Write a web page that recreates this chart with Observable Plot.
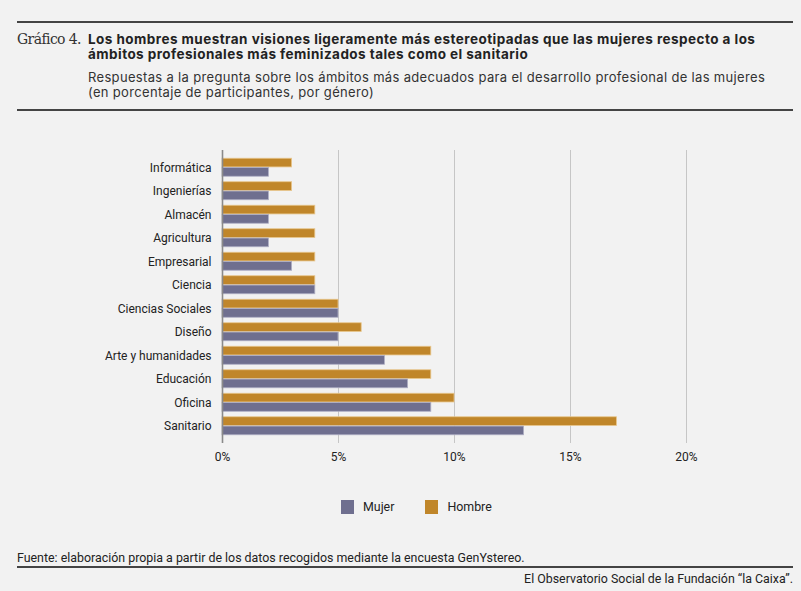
<!DOCTYPE html>
<html>
<head>
<meta charset="utf-8">
<script src="https://cdn.jsdelivr.net/npm/d3@7"></script>
<script src="https://cdn.jsdelivr.net/npm/@observablehq/plot@0.6"></script>
<style>
  html, body { margin: 0; padding: 0; background: #f2f2f2; }
  body { width: 801px; height: 591px; position: relative; overflow: hidden; font-family: Roboto, "Liberation Sans", sans-serif; color: #222; }
  .abs { position: absolute; white-space: nowrap; }
  .rule { position: absolute; left: 17px; width: 776px; height: 2px; background: #444; }
  #gr { left: 17px; top: 31px; font-family: "DejaVu Serif", "Liberation Serif", serif; font-size: 14px; color: #333; letter-spacing: -0.6px; }
  .tl { left: 88px; font-family: Inter, Roboto, sans-serif; font-size: 13.5px; font-weight: bold; line-height: 15px; color: #222; letter-spacing: 0.45px; }
  .sl { left: 88px; font-family: Inter, Roboto, sans-serif; font-size: 13px; line-height: 15px; color: #333; letter-spacing: 0.33px; }
  #chart { left: 0; top: 140px; }
  #legend { left: 341px; top: 499px; font-size: 12.4px; color: #222; }
  .sw { display: inline-block; width: 13px; height: 14px; vertical-align: -3px; margin-right: 9px; }
  #fuente { left: 17px; top: 550px; font-size: 12.4px; color: #222; }
  #credit { right: 8px; top: 571px; font-size: 12.4px; color: #222; }
</style>
</head>
<body>
<div class="rule" style="top:21px"></div>
<div class="abs" id="gr">Gráfico 4.</div>
<div class="abs tl" style="top:32px">Los hombres muestran visiones ligeramente más estereotipadas que las mujeres respecto a los</div>
<div class="abs tl" style="top:47px">ámbitos profesionales más feminizados tales como el sanitario</div>
<div class="abs sl" style="top:70px">Respuestas a la pregunta sobre los ámbitos más adecuados para el desarrollo profesional de las mujeres</div>
<div class="abs sl" style="top:85px">(en porcentaje de participantes, por género)</div>
<div class="rule" style="top:109px"></div>
<div class="abs" id="chart"></div>
<div class="abs" id="legend"><span class="sw" style="background:#6f6f8f"></span>Mujer<span class="sw" style="background:#c0862a;margin-left:31px"></span>Hombre</div>
<div class="abs" id="fuente">Fuente: elaboración propia a partir de los datos recogidos mediante la encuesta GenYstereo.</div>
<div class="rule" style="top:566px"></div>
<div class="abs" id="credit">El Observatorio Social de la Fundación “la Caixa”.</div>
<script>
const categories = ["Informática","Ingenierías","Almacén","Agricultura","Empresarial","Ciencia","Ciencias Sociales","Diseño","Arte y humanidades","Educación","Oficina","Sanitario"];
const mujer = [2,2,2,2,3,4,5,5,7,8,9,13];
const hombre = [3,3,4,4,4,4,5,6,9,9,10,17];
const xTicks = [0,5,10,15,20];

const rowsH = categories.map((c,i) => ({cat: c, value: hombre[i]}));
const rowsM = categories.map((c,i) => ({cat: c, value: mujer[i]}));

const chart = Plot.plot({
  width: 801,
  height: 330,
  marginLeft: 222,
  marginRight: 115,
  marginTop: 10,
  marginBottom: 27,
  style: {background: "#f2f2f2", fontFamily: "Roboto, 'Liberation Sans', sans-serif", fontSize: "12px", color: "#222"},
  x: {domain: [0, 20], ticks: xTicks, tickFormat: d => d + "%", tickSize: 0, tickPadding: 9, label: null},
  y: {domain: categories, paddingInner: 0.234, paddingOuter: 0.35, round: false, tickSize: 0, tickPadding: 11, label: null},
  marks: [
    Plot.ruleX(xTicks.filter(d => d > 0), {stroke: "#c6c6c6", strokeWidth: 1}),
    Plot.barX(rowsH, {y: "cat", x: "value", fill: "#c0862a", stroke: "#e8c68c", strokeWidth: 0.8, insetBottom: 9.3}),
    Plot.barX(rowsM, {y: "cat", x: "value", fill: "#6f6f8f", stroke: "#aeaec4", strokeWidth: 0.8, insetTop: 9.3}),
    Plot.ruleX([0], {stroke: "#8a8a8a", strokeWidth: 1.6})
  ]
});
document.getElementById("chart").appendChild(chart);
</script>
</body>
</html>
